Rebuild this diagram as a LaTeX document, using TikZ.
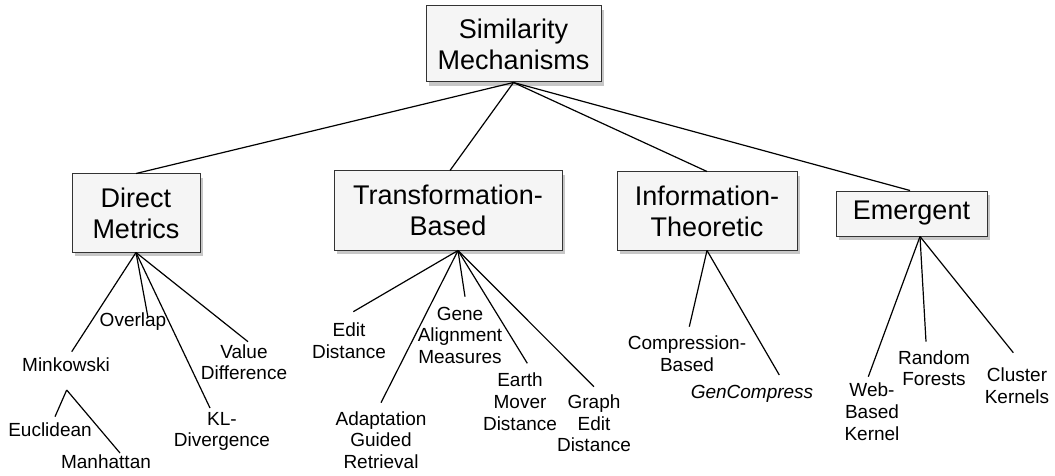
\documentclass[tikz,border=0pt]{standalone}
\usepackage{fontspec}
\setmainfont{Liberation Sans}
\usetikzlibrary{shadows}
\begin{document}
\begin{tikzpicture}[x=1pt,y=-1pt,
  cat/.style={draw=black!80, line width=1pt, fill=black!4, align=center, inner sep=0pt,
    font=\fontsize{27}{31}\selectfont,
    drop shadow={shadow xshift=3pt, shadow yshift=-4pt, opacity=0.22, fill=black}},
  leaf/.style={align=center, inner sep=0pt, anchor=base, font=\fontsize{19}{21.7}\selectfont},
  link/.style={line width=1.2pt, draw=black}]
\useasboundingbox (0,0) rectangle (1055,476);

% category boxes
\node[cat, minimum width=175pt, minimum height=76pt] (sm) at (513.5,44) {Similarity\\Mechanisms};
\node[cat, minimum width=128pt, minimum height=78pt] (dm) at (136,213) {Direct\\Metrics};
\node[cat, minimum width=228pt, minimum height=79pt] (tb) at (448,210.5) {Transformation-\\Based};
\node[cat, minimum width=180pt, minimum height=78pt] (it) at (707,211) {Information-\\Theoretic};
\node[cat, minimum width=151pt, minimum height=45pt] (em) at (911.5,213.5) {Emergent};

% leaves (anchor = baseline of the last line)
\node[leaf] (mink) at (66,371.7) {Minkowski};
\node[leaf] (ovl) at (133,326.7) {Overlap};
\node[leaf] (kl) at (222,446.7) {KL-\\Divergence};
\node[leaf] (vd) at (244,379.7) {Value\\Difference};
\node[leaf] (euc) at (50,436.7) {Euclidean};
\node[leaf] (man) at (106,468) {Manhattan};
\node[leaf] (ed) at (349,358.4) {Edit\\Distance};
\node[leaf] (agr) at (381,468.4) {Adaptation\\Guided\\Retrieval};
\node[leaf] (gam) at (460,363.4) {Gene\\Alignment\\Measures};
\node[leaf] (emd) at (520,430.1) {Earth\\Mover\\Distance};
\node[leaf] (ged) at (594,451.7) {Graph\\Edit\\Distance};
\node[leaf] (cb) at (687,371.2) {Compression-\\Based};
\node[leaf] (gc) at (752,398.3) {\itshape GenCompress};
\node[leaf] (wbk) at (872,440.1) {Web-\\Based\\Kernel};
\node[leaf] (rf) at (934,385.7) {Random\\Forests};
\node[leaf] (ck) at (1017,403.4) {Cluster\\Kernels};

% connector ends
\coordinate (c-mink) at (71.7,351.7);
\coordinate (c-ovl) at (148,317.5);
\coordinate (c-kl) at (210,408);
\coordinate (c-vd) at (248,341.7);
\coordinate (c-mk) at (66.7,390);
\coordinate (c-euc) at (55,416.7);
\coordinate (c-man) at (120,453);
\coordinate (c-ed) at (353.3,311.7);
\coordinate (c-agr) at (381,402.7);
\coordinate (c-gam) at (465,296.7);
\coordinate (c-emd) at (527.3,363.3);
\coordinate (c-ged) at (594,386.7);
\coordinate (c-cb) at (689.3,326.7);
\coordinate (c-gc) at (779.3,375);
\coordinate (c-wbk) at (868.3,376.7);
\coordinate (c-rf) at (926,341.7);
\coordinate (c-ck) at (1013.3,352.7);
\coordinate (tbo) at ([xshift=10pt]tb.south);
\coordinate (emo) at ([xshift=8.5pt]em.south);

% connectors
\draw[link] (sm.south) -- (dm.north);
\draw[link] (sm.south) -- ([xshift=2pt]tb.north);
\draw[link] (sm.south) -- (it.north);
\draw[link] (sm.south) -- ([xshift=-1.5pt]em.north);

\draw[link] (dm.south) -- (c-mink);
\draw[link] (dm.south) -- (c-ovl);
\draw[link] (dm.south) -- (c-kl);
\draw[link] (dm.south) -- (c-vd);
\draw[link] (c-mk) -- (c-euc);
\draw[link] (c-mk) -- (c-man);

\draw[link] (tbo) -- (c-ed);
\draw[link] (tbo) -- (c-agr);
\draw[link] (tbo) -- (c-gam);
\draw[link] (tbo) -- (c-emd);
\draw[link] (tbo) -- (c-ged);

\draw[link] (it.south) -- (c-cb);
\draw[link] (it.south) -- (c-gc);

\draw[link] (emo) -- (c-wbk);
\draw[link] (emo) -- (c-rf);
\draw[link] (emo) -- (c-ck);
\end{tikzpicture}
\end{document}
